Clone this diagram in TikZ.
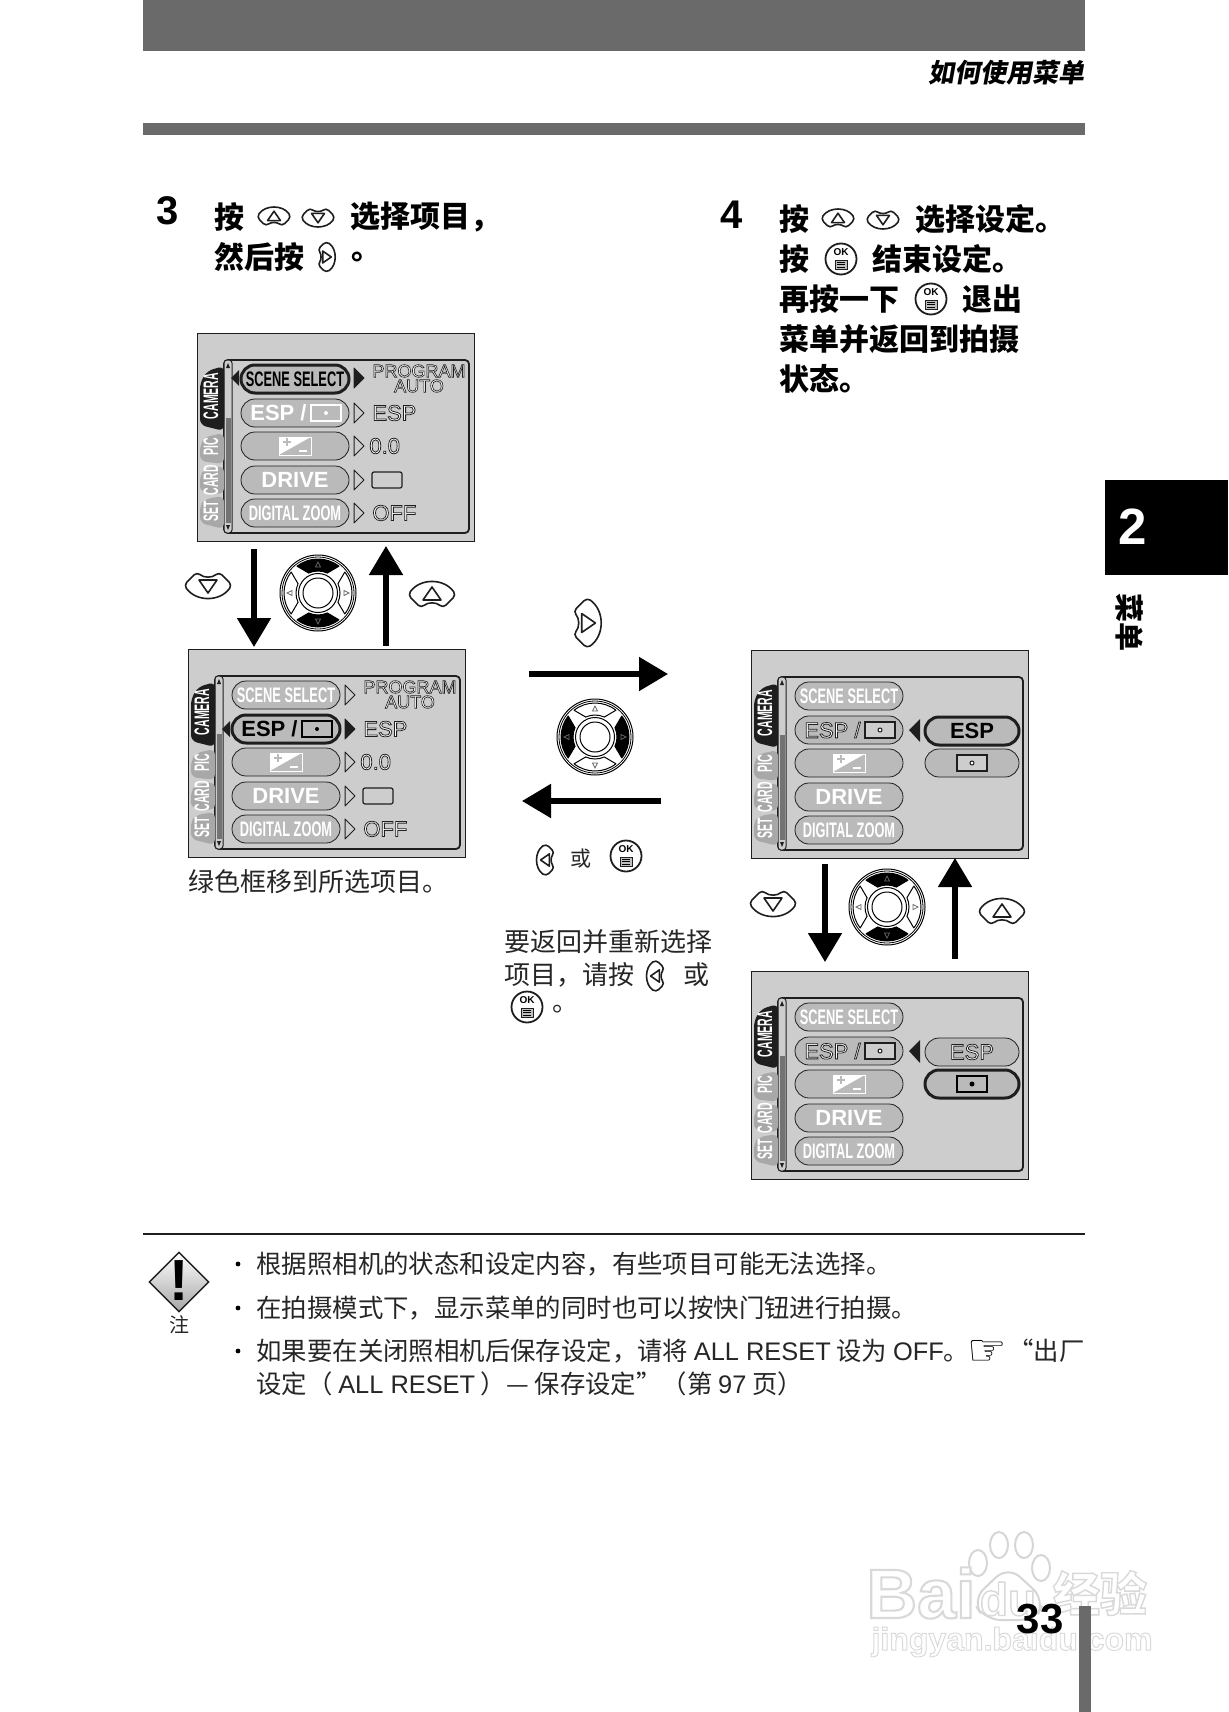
\documentclass[tikz,border=0pt]{standalone}
\usepackage{fontspec}
\usetikzlibrary{arrows.meta,shapes.misc,shapes.geometric,positioning}
\setmainfont{Liberation Sans}
\newfontfamily\cjk{Noto Sans CJK SC}
\newfontfamily\cjkslant[FakeSlant=0.18]{Noto Sans CJK SC}
\newfontfamily\menufont[FakeStretch=0.61]{Liberation Sans}
\newfontfamily\tabfont[FakeStretch=0.5]{Liberation Sans}
\newfontfamily\outlinefont[FakeBold=3.5]{Liberation Sans}
\newfontfamily\wmfont[FakeBold=3,BoldFeatures={FakeBold=3}]{Liberation Sans}
\newfontfamily\wmcjk[FakeBold=3,BoldFeatures={FakeBold=3}]{Noto Sans CJK SC}
\newfontfamily\handfont{DejaVu Sans}
\definecolor{band}{HTML}{6A6A6A}
\definecolor{lcd}{HTML}{CDCDCD}
\definecolor{btn}{HTML}{BABABA}
\definecolor{tabgray}{HTML}{A8A8A8}
\definecolor{inkdark}{HTML}{1E1E1E}
\newcommand{\outl}[1]{{\outlinefont\special{pdf:code 0.12 G}#1}}
\newcommand{\wmk}[1]{{\special{pdf:code 0.85 G}#1}}
\tikzset{
	inkline/.style = {draw=inkdark, line width=.8pt, line join=round},
	bigarrow/.style = {line width=2.6pt, -{Triangle[length=14.5pt,width=16.5pt]}},
	menubtn/.style = {draw=inkdark, line width=.4pt, fill=btn, rounded rectangle, minimum width=54pt, minimum height=14pt, inner sep=0pt, text=white, font=\menufont\bfseries\fontsize{10.5}{10.5}\selectfont},
	activebtn/.style = {menubtn, line width=1.5pt, text=black},
	widebtn/.style = {text=white, inner sep=0pt, font=\bfseries\fontsize{11}{11}\selectfont},
	tabtext/.style = {rotate=90, inner sep=0pt, text=white, font=\tabfont\bfseries\fontsize{10.5}{10.5}\selectfont},
	valtext/.style = {inner sep=0pt, anchor=west, text=white, font=\fontsize{11}{11}\selectfont},
	headtext/.style = {anchor=west, inner sep=0pt, font=\cjk\bfseries\fontsize{15}{15}\selectfont},
	bodytext/.style = {anchor=west, inner sep=0pt, text=black!85, font=\cjk\fontsize{13}{13}\selectfont},
	notetext/.style = {bodytext, font=\cjk\fontsize{12.7}{12.7}\selectfont},
	spotbox/.style = {draw=white, line width=1pt, minimum width=15pt, minimum height=8pt, inner sep=0pt},
	pics/upkey/.style = {code = {
		\path[inkline, fill=white, rounded corners=2pt] (-24,0) .. controls (-12,-17) and (12,-17) .. (24,0) -- (11,13) .. controls (4,7) and (-4,7) .. (-11,13) -- cycle;
		\path[inkline] (0,-8) -- (9,5) -- (-9,5) -- cycle;
	}},
	pics/okkey/.style = {code = {
		\path[inkline, line width=.9pt, fill=white] (0,0) circle[radius=15.5];
		\node[inner sep=0pt, font=\bfseries\fontsize{5}{5}\selectfont] at (0,-6.5) {OK};
		\path[draw=inkdark, fill=black!25, line width=.35pt] (-6,1) rectangle (6,10);
		\foreach \yy in {3.2,5.5,7.8} \draw[line width=.3pt] (-4,\yy) -- (4,\yy);
	}},
	pics/evglyph/.style = {code = {
		\fill[white] (-16,-9) rectangle (16,9);
		\fill[btn] (16,-9) -- (16,9) -- (-16,9) -- cycle;
		\draw[white, line width=.5pt] (-16,-9) rectangle (16,9);
		\draw[btn, line width=.7pt] (-12,-4) -- (-4,-4) (-8,-8) -- (-8,0);
		\draw[white, line width=.7pt] (4,5) -- (12,5);
	}},
	pics/dial/.style 2 args = {code = {
		\draw[line width=.5pt, fill=white] (0,0) circle[radius=38];
		\draw[line width=.4pt] (0,0) circle[radius=36];
		\foreach \a/\c in {90/#1,270/#1,0/#2,180/#2}
			\path[draw=black, line width=.5pt, line join=round, fill=\c] (\a-38:34) arc[start angle=\a-38, delta angle=76, radius=34] -- (\a+25:22) arc[start angle=\a+25, delta angle=-50, radius=22] -- cycle;
		\draw[line width=.5pt, fill=white] (0,0) circle[radius=19.5];
		\draw[line width=.5pt] (0,0) circle[radius=15];
		\foreach \r in {0,90,180,270}
			\draw[rotate=\r, line width=.35pt, draw=black!60] (26,-2.5) -- (31,0) -- (26,2.5) -- cycle;
	}}
}
% one screen, without the rows that change
\newcommand{\lcdbase}[1]{
	\node[draw=inkdark, line width=.6pt, fill=lcd, minimum width=138.5pt, minimum height=104pt, inner sep=0pt, anchor=north west] (#1-frame) at (0,0) {};
	\draw[inkdark, line width=.9pt, rounded corners=2pt, fill=lcd] (27,27) rectangle (272,200);
	\draw[inkdark, line width=.5pt, rounded corners=1.5pt, fill=lcd] (27,27) rectangle (35,200);
	\fill[black!55] (28.5,85) rectangle (33.5,190);
	\fill[inkdark] (31,30) -- (33,35) -- (29,35) -- cycle (31,197) -- (33,192) -- (29,192) -- cycle;
	\path[fill=inkdark, rounded corners=3pt] (27,33) -- (10,38) -- (3,50) -- (3,92) -- (27,98) -- cycle;
	\path[fill=tabgray, rounded corners=3pt] (27,100) -- (8,104) -- (3,112) -- (3,128) -- (27,131) -- cycle;
	\path[fill=tabgray, rounded corners=3pt] (27,133) -- (8,136) -- (3,142) -- (3,159) -- (27,161) -- cycle;
	\path[fill=tabgray, rounded corners=3pt] (27,163) -- (8,166) -- (3,172) -- (3,190) -- (27,196) -- cycle;
	\node[tabtext] (#1-camera) at (14,63) {CAMERA};
	\node[tabtext] (#1-pic) at (14,114) {PIC};
	\node[tabtext] (#1-card) at (14,147) {CARD};
	\node[tabtext] (#1-set) at (14,178) {SET};
}
% left column of a screen, values at the row y's given
\newcommand{\lcdrows}[6]{
	\node[menubtn] (#1-1) at (98,#2) {SCENE SELECT};
	\node[menubtn] (#1-2) at (98,#3) {};
	\node[menubtn] (#1-3) at (98,#4) {};
	\node[menubtn] (#1-4) at (98,#5) {};
	\node[widebtn] (#1-4t) at (98,#5) {DRIVE};
	\node[menubtn] (#1-5) at (98,#6) {DIGITAL ZOOM};
	\pic at (98,#4) {evglyph};
}
\newcommand{\lcdvalues}[1]{
	\node[valtext, anchor=center, font=\fontsize{9}{9}\selectfont] (#1-v1) at (222,38) {\outl{PROGRAM}};
	\node[valtext, anchor=center, font=\fontsize{9}{9}\selectfont] (#1-v2) at (222,53) {\outl{AUTO}};
	\node[valtext] (#1-v3) at (175,80) {\outl{ESP}};
	\node[valtext] (#1-v4) at (172,113) {\outl{0.0}};
	\draw[inkdark, line width=.6pt, fill=lcd, rounded corners=1pt] (175,139) rectangle (205,155);
	\node[valtext] (#1-v5) at (175,180) {\outl{OFF}};
}
\newcommand{\rowmark}[2]{\draw[inkline, line width=.5pt, fill=#2] (157,#1-10) -- (167,#1) -- (157,#1+10) -- cycle;}
\begin{document}
\begin{tikzpicture}[x=.5pt, y=-.5pt]
	\useasboundingbox (0,0) rectangle (1228,1712);
	\fill[white] (0,0) rectangle (1228,1712);
	% page furniture
	\fill[band] (143,0) rectangle (1085,51);
	\fill[band] (143,123) rectangle (1085,135);
	\node[anchor=east, inner sep=0pt, font=\cjkslant\bfseries\fontsize{13}{13}\selectfont] (hdr) at (1085,73) {如何使用菜单};
	\fill[black] (1105,480) rectangle (1228,575);
	\node[text=white, inner sep=0pt, font=\bfseries\fontsize{25.5}{25.5}\selectfont] (chap) at (1133,527) {2};
	\node[rotate=-90, inner sep=0pt, font=\cjk\bfseries\fontsize{14.5}{14.5}\selectfont] (chapname) at (1130,622) {菜单};
	% watermark
	\foreach \px/\py in {978/1563,999/1545,1024/1545,1041/1568}
		\draw[black!16, line width=1pt] (\px,\py) ellipse[x radius=9, y radius=13];
	\draw[black!16, line width=1pt, rounded corners=8pt] (1008,1566) -- (1045,1600) -- (1035,1620) -- (985,1620) -- (972,1600) -- cycle;
	\node[inner sep=0pt, text=white, font=\wmfont\bfseries\fontsize{35}{35}\selectfont] (wm1) at (921,1593) {\wmk{Bai}};
	\node[inner sep=0pt, text=white, font=\wmfont\bfseries\fontsize{23}{23}\selectfont] (wm2) at (1008,1599) {\wmk{du}};
	\node[inner sep=0pt, text=white, font=\wmcjk\bfseries\fontsize{23.5}{23.5}\selectfont] (wm3) at (1100,1593) {\wmk{经验}};
	\node[inner sep=0pt, text=white, font=\wmfont\bfseries\fontsize{16}{16}\selectfont] (wm4) at (1012,1642) {\wmk{jingyan.baidu.com}};
	\fill[band] (1079,1606) rectangle (1091,1712);
	\node[inner sep=0pt, font=\bfseries\fontsize{21}{21}\selectfont] (pageno) at (1040,1619) {33};
	% step 3
	\node[inner sep=0pt, font=\bfseries\fontsize{20}{20}\selectfont] (n3) at (168,211) {3};
	\node[headtext] (t3a) at (214,217) {按};
	\pic[scale=.72] at (274,217) {upkey};
	\pic[scale=.72, rotate=180] at (318,217) {upkey};
	\node[headtext] (t3b) at (350,217) {选择项目，};
	\node[headtext] (t3c) at (214,257) {然后按};
	\pic[scale=.66, rotate=-90] at (326,257) {upkey};
	\node[headtext] (t3d) at (351,257) {。};
	% step 4
	\node[inner sep=0pt, font=\bfseries\fontsize{20}{20}\selectfont] (n4) at (732,215) {4};
	\node[headtext] (t4a) at (779,219) {按};
	\pic[scale=.72] at (838,219) {upkey};
	\pic[scale=.72, rotate=180] at (883,219) {upkey};
	\node[headtext] (t4b) at (915,219) {选择设定。};
	\node[headtext] (t4c) at (779,259) {按};
	\pic at (841,259) {okkey};
	\node[headtext] (t4d) at (872,259) {结束设定。};
	\node[headtext] (t4e) at (779,299) {再按一下};
	\pic at (931,299) {okkey};
	\node[headtext] (t4f) at (962,299) {退出};
	\node[headtext] (t4g) at (779,339) {菜单并返回到拍摄};
	\node[headtext] (t4h) at (779,379) {状态。};
	% screen 1
	\begin{scope}[shift={(197,333)}]
		\lcdbase{sa}
		\lcdrows{sa}{46}{80}{113}{147}{180}
		\node[activebtn] at (98,46) {SCENE SELECT};
		\node[widebtn, anchor=east] (sa-2t) at (110,80) {ESP /};
		\node[spotbox] (sa-2g) at (129,80) {};
		\fill[white] (sa-2g.center) circle[radius=2];
		\fill[inkdark] (42,37) -- (34,45) -- (42,53) -- cycle;
		\rowmark{45}{inkdark}
		\rowmark{80}{lcd}
		\rowmark{113}{lcd}
		\rowmark{147}{lcd}
		\rowmark{180}{lcd}
		\lcdvalues{sa}
	\end{scope}
	% screen 2
	\begin{scope}[shift={(188,649)}]
		\lcdbase{sb}
		\lcdrows{sb}{46}{80}{113}{147}{180}
		\node[activebtn] at (98,80) {};
		\node[widebtn, text=black, anchor=east] (sb-2t) at (110,80) {ESP /};
		\node[spotbox, draw=black] (sb-2g) at (129,80) {};
		\fill[black] (sb-2g.center) circle[radius=2];
		\fill[inkdark] (42,72) -- (34,80) -- (42,88) -- cycle;
		\rowmark{46}{lcd}
		\rowmark{80}{inkdark}
		\rowmark{113}{lcd}
		\rowmark{147}{lcd}
		\rowmark{180}{lcd}
		\lcdvalues{sb}
	\end{scope}
	% screen 3
	\begin{scope}[shift={(751,650)}]
		\lcdbase{sc}
		\lcdrows{sc}{46}{80}{113}{147}{180}
		\node[inner sep=0pt, anchor=east, font=\fontsize{11}{11}\selectfont, text=white] (sc-2t) at (110,80) {\outl{ESP /}};
		\node[spotbox, draw=inkdark, fill=lcd, line width=.6pt] (sc-2g) at (129,80) {};
		\draw[inkdark, line width=.5pt, fill=white] (sc-2g.center) circle[radius=2];
		\fill[inkdark] (169,69) -- (158,80) -- (169,92) -- cycle;
		\node[activebtn, minimum width=47pt] (sc-3) at (221,81) {};
		\node[widebtn, text=black] (sc-3t) at (221,81) {ESP};
		\node[menubtn, minimum width=47pt] (sc-4) at (221,113) {};
		\node[spotbox, draw=inkdark, fill=lcd, line width=.6pt] (sc-4g) at (221,113) {};
		\draw[inkdark, line width=.5pt, fill=white] (sc-4g.center) circle[radius=2];
	\end{scope}
	% screen 4
	\begin{scope}[shift={(751,971)}]
		\lcdbase{sd}
		\lcdrows{sd}{46}{80}{113}{147}{180}
		\node[inner sep=0pt, anchor=east, font=\fontsize{11}{11}\selectfont, text=white] (sd-2t) at (110,80) {\outl{ESP /}};
		\node[spotbox, draw=inkdark, fill=lcd, line width=.6pt] (sd-2g) at (129,80) {};
		\draw[inkdark, line width=.5pt, fill=white] (sd-2g.center) circle[radius=2];
		\fill[inkdark] (169,69) -- (158,80) -- (169,92) -- cycle;
		\node[menubtn, minimum width=47pt] (sd-3) at (221,81) {};
		\node[inner sep=0pt, font=\fontsize{11}{11}\selectfont, text=white] (sd-3t) at (221,81) {\outl{ESP}};
		\node[activebtn, minimum width=47pt] (sd-4) at (221,113) {};
		\node[spotbox, draw=black, line width=1pt] (sd-4g) at (221,113) {};
		\fill[black] (sd-4g.center) circle[radius=2.5];
	\end{scope}
	% controls between the screens
	\coordinate (aS) at (254,549);
	\coordinate (aE) at (254,647);
	\coordinate (bS) at (386,646);
	\coordinate (bE) at (386,546);
	\coordinate (cS) at (529,674);
	\coordinate (cE) at (668,674);
	\coordinate (dS) at (661,801);
	\coordinate (dE) at (522,801);
	\coordinate (eS) at (825,864);
	\coordinate (eE) at (825,962);
	\coordinate (fS) at (955,959);
	\coordinate (fE) at (955,858);
	\draw[bigarrow] (aS) -- (aE);
	\draw[bigarrow] (bS) -- (bE);
	\draw[bigarrow] (cS) -- (cE);
	\draw[bigarrow] (dS) -- (dE);
	\draw[bigarrow] (eS) -- (eE);
	\draw[bigarrow] (fS) -- (fE);
	\pic at (318,593) {dial={black}{white}};
	\pic at (595,737) {dial={white}{black}};
	\pic at (887,907) {dial={black}{white}};
	\pic[rotate=180] at (208,585) {upkey};
	\pic at (432,595) {upkey};
	\pic[rotate=-90, scale=1.05] at (587,623) {upkey};
	\pic[rotate=90, scale=.68] at (546,860) {upkey};
	\pic at (626,856) {okkey};
	\node[bodytext, font=\cjk\fontsize{10.5}{10.5}\selectfont] (or1) at (570,859) {或};
	\pic[rotate=180] at (773,903) {upkey};
	\pic at (1002,912) {upkey};
	% captions
	\node[bodytext] (cap1) at (188,882) {绿色框移到所选项目。};
	\node[bodytext] (cap2) at (504,942) {要返回并重新选择};
	\node[bodytext] (cap3) at (504,975) {项目，请按};
	\pic[rotate=90, scale=.68] at (656,976) {upkey};
	\node[bodytext] (cap4) at (683,975) {或};
	\pic at (527,1007) {okkey};
	\node[bodytext] (cap5) at (552,1009) {。};
	% note
	\draw[inkdark, line width=1.1pt] (143,1234) -- (1085,1234);
	\node[diamond, draw=inkdark, line width=.7pt, top color=white, bottom color=black!35, minimum width=30pt, minimum height=30pt, inner sep=0pt] (warn) at (179,1282) {};
	\node[inner sep=0pt, font=\bfseries\fontsize{29}{29}\selectfont] (warnx) at (179,1281) {!};
	\node[bodytext, anchor=center, font=\cjk\fontsize{10}{10}\selectfont] (warnl) at (179,1325) {注};
	\foreach \yy in {1264,1308,1351} \fill[black] (238,\yy) circle[radius=2.4];
	\node[notetext] (n1) at (256,1264) {根据照相机的状态和设定内容，有些项目可能无法选择。};
	\node[notetext] (n2) at (256,1308) {在拍摄模式下，显示菜单的同时也可以按快门钮进行拍摄。};
	\node[notetext] (n3a) at (256,1351) {如果要在关闭照相机后保存设定，请将 {\rmfamily ALL RESET} 设为 {\rmfamily OFF}。};
	\node[inner sep=0pt, font=\handfont\fontsize{22}{22}\selectfont] (hand) at (987,1353) {☞};
	\node[notetext, anchor=east] (n3b) at (1085,1351) {“出厂};
	\node[notetext] (n4) at (256,1384) {设定（ {\rmfamily ALL RESET} ）— 保存设定”（第 {\rmfamily 97} 页）};
\end{tikzpicture}
\end{document}
